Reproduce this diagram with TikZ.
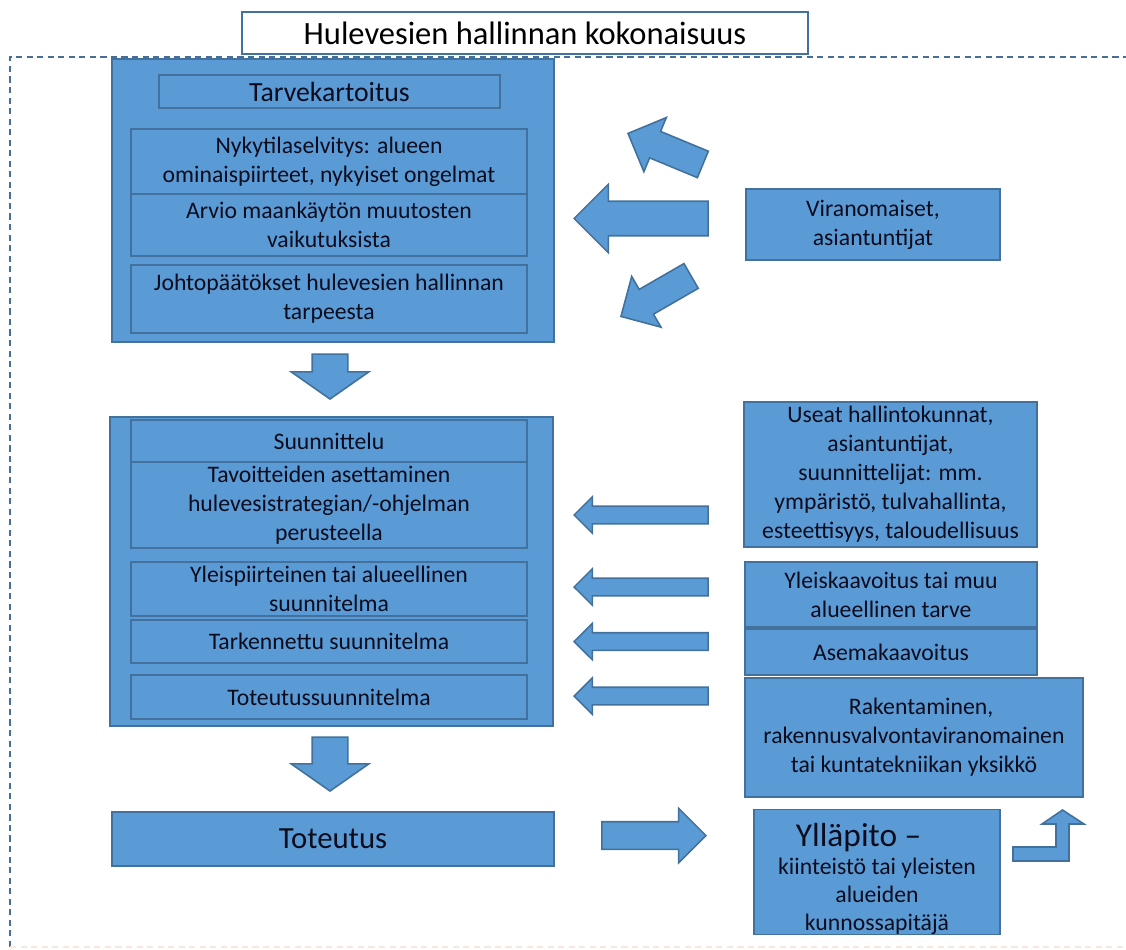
\documentclass[tikz,border=0pt]{standalone}
\usepackage{fontspec}
\setmainfont{Carlito}
\usepackage{tikz}
\usetikzlibrary{shapes.arrows,positioning}
\definecolor{boxfill}{RGB}{91,155,213}
\definecolor{boxedge}{RGB}{65,113,156}
\definecolor{txtdark}{RGB}{12,12,30}
\definecolor{framecol}{RGB}{70,110,150}
\definecolor{faintcol}{RGB}{246,232,222}
\tikzset{
  bluebox/.style={rectangle,draw=boxedge,fill=boxfill,line width=0.9pt,align=center,text=txtdark,inner sep=1pt,font=\fontsize{13.5}{16.5}\selectfont},
  outerbox/.style={bluebox,minimum width=8.84cm},
  innerbox/.style={bluebox,minimum width=7.92cm},
  sidebox/.style={bluebox,minimum width=5.84cm},
  titlebox/.style={rectangle,draw=boxedge,fill=white,line width=0.9pt,minimum width=11.32cm,minimum height=0.84cm,font=\fontsize{18.5}{22}\selectfont},
  framedash/.style={draw=framecol,line width=0.8pt,dash pattern=on 3.5pt off 2.5pt},
  blockarr/.style={single arrow,draw=boxedge,fill=boxfill,line width=0.9pt,anchor=tip,inner xsep=0pt,single arrow tip angle=90},
  bigarr/.style={blockarr,minimum height=2.68cm,inner ysep=0.33cm,single arrow head extend=0.34cm},
  diagarr/.style={blockarr,minimum height=1.62cm,inner ysep=0.27cm,single arrow head extend=0.30cm},
  thinarr/.style={blockarr,minimum height=2.68cm,inner ysep=0.16cm,single arrow head extend=0.19cm},
  downarr/.style={blockarr,rotate=270,inner ysep=0.34cm,single arrow head extend=0.42cm,single arrow tip angle=110},
  rightarr/.style={blockarr,minimum height=2.08cm,inner ysep=0.26cm,single arrow head extend=0.27cm}
}
\begin{document}
\begin{tikzpicture}[x=0.02cm,y=-0.02cm]
  \useasboundingbox (0,0) rectangle (1126,950);
  \draw[framedash] (10,947) -- (10,57) -- (1126,57);
  \draw[draw=faintcol,line width=0.8pt,dash pattern=on 3.5pt off 2.5pt] (10,947) -- (1126,947);
  \node[titlebox] (title) at (525,33) {Hulevesien hallinnan kokonaisuus};

  \node[outerbox,minimum height=5.66cm] (tarve) at (333,200.5) {};
  \node[bluebox,minimum width=6.82cm,minimum height=0.66cm,font=\fontsize{15.8}{18}\selectfont] (tarvet) at (329.5,91.5) {Tarvekartoitus};
  \node[innerbox,minimum height=1.3cm] (nyky) at (329,161.5) {Nykytilaselvitys: alueen\\ominaispiirteet, nykyiset ongelmat};
  \node[innerbox,minimum height=1.24cm] (arvio) at (329,225) {Arvio maankäytön muutosten\\vaikutuksista};
  \node[innerbox,minimum height=1.36cm] (johto) at (329,299) {Johtopäätökset hulevesien hallinnan\\tarpeesta};

  \node[outerbox,minimum width=8.86cm,minimum height=6.18cm] (suunn) at (331.5,571.5) {};
  \node[innerbox,minimum height=0.84cm] (suunt) at (329,441) {Suunnittelu};
  \node[innerbox,minimum height=1.72cm] (tavo) at (329,505) {Tavoitteiden asettaminen\\hulevesistrategian/-ohjelman\\perusteella};
  \node[innerbox,minimum height=1.08cm] (yleis) at (329,589) {Yleispiirteinen tai alueellinen\\suunnitelma};
  \node[innerbox,minimum height=0.86cm] (tark) at (329,641.5) {Tarkennettu suunnitelma};
  \node[innerbox,minimum height=0.88cm] (totsu) at (329,697) {Toteutussuunnitelma};

  \node[outerbox,minimum height=1.08cm,font=\fontsize{17.5}{20}\selectfont] (toteutus) at (333,839) {Toteutus};

  \node[bluebox,minimum width=5.08cm,minimum height=1.42cm] (viran) at (873,224.5) {Viranomaiset,\\asiantuntijat};
  \node[sidebox,minimum width=5.86cm,minimum height=2.9cm] (useat) at (890.5,474.5) {Useat hallintokunnat,\\asiantuntijat,\\suunnittelijat: mm.\\ympäristö, tulvahallinta,\\esteettisyys, taloudellisuus};
  \node[sidebox,minimum height=1.3cm] (ylkaava) at (891,594.5) {Yleiskaavoitus tai muu\\alueellinen tarve};
  \node[sidebox,minimum height=0.92cm] (asema) at (891,652) {Asemakaavoitus};
  \node[sidebox,minimum width=6.76cm,minimum height=2.38cm] (rakent) at (914,737.5) {\hspace*{0.6em}Rakentaminen,\\rakennusvalvontaviranomainen\\tai kuntatekniikan yksikkö};
  \node[bluebox,minimum width=4.92cm,minimum height=2.44cm,inner ysep=0pt,font=\fontsize{13.5}{16}\selectfont] (yllap) at (877,872) {{\fontsize{19}{21}\selectfont\rule{0pt}{21pt}Ylläpito –\hspace*{1.1em}}\\kiinteistö tai yleisten\\alueiden\\kunnossapitäjä};

  \node[diagarr,rotate=157.5] (aup) at (627,133) {};
  \node[bigarr,rotate=180] (aviran) at (573,218.5) {};
  \node[diagarr,rotate=210] (adown) at (620,317) {};
  \node[downarr,minimum height=0.9cm] (ad1) at (330,400) {};
  \node[thinarr,rotate=180] (auseat) at (573,515) {};
  \node[thinarr,rotate=180] (aylk) at (573,587) {};
  \node[thinarr,rotate=180] (aasema) at (573,641.5) {};
  \node[thinarr,rotate=180] (arak) at (573,696) {};
  \node[downarr,minimum height=1.08cm] (ad2) at (330,792) {};
  \node[rightarr] (ayllap) at (707,835.5) {};
  \draw[draw=boxedge,fill=boxfill,line width=0.9pt] (1013,847) -- (1056,847) -- (1056,824) -- (1042,824)
    -- (1062.5,810) -- (1084,824) -- (1069,824) -- (1069,861) -- (1013,861) -- cycle;
\end{tikzpicture}
\end{document}
